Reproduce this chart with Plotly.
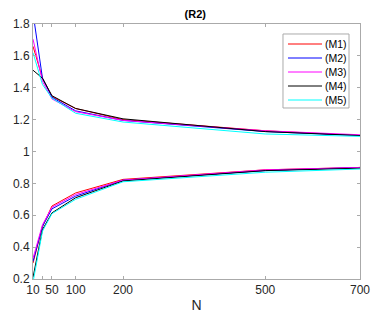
import plotly.graph_objects as go

N = [10, 30, 50, 100, 200, 500, 700]
names = ["(M1)", "(M2)", "(M3)", "(M4)", "(M5)"]
colors = ["#ff0000", "#0000ff", "#ff00ff", "#000000", "#00ffff"]

upper = {
    "(M1)": [1.66, 1.46, 1.345, 1.27, 1.20, 1.13, 1.10],
    "(M2)": [1.87, 1.46, 1.34, 1.255, 1.195, 1.125, 1.10],
    "(M3)": [1.705, 1.44, 1.33, 1.25, 1.195, 1.13, 1.105],
    "(M4)": [1.51, 1.46, 1.35, 1.27, 1.205, 1.125, 1.10],
    "(M5)": [1.62, 1.42, 1.335, 1.24, 1.185, 1.11, 1.095],
}
lower = {
    "(M1)": [0.30, 0.53, 0.658, 0.74, 0.825, 0.885, 0.90],
    "(M2)": [0.31, 0.53, 0.64, 0.72, 0.82, 0.88, 0.90],
    "(M3)": [0.33, 0.54, 0.65, 0.73, 0.82, 0.885, 0.90],
    "(M4)": [0.21, 0.51, 0.615, 0.71, 0.815, 0.88, 0.895],
    "(M5)": [0.18, 0.50, 0.61, 0.70, 0.81, 0.87, 0.89],
}

yticks = [0.2, 0.4, 0.6, 0.8, 1.0, 1.2, 1.4, 1.6, 1.8]
ytick_labels = ["0.2", "0.4", "0.6", "0.8", "1", "1.2", "1.4", "1.6", "1.8"]
xticks = [10, 30, 50, 100, 200, 500, 700]
xtick_labels = ["10", "", "50", "100", "200", "500", "700"]

fig = go.Figure()
for name, c in zip(names, colors):
    fig.add_trace(go.Scatter(x=N, y=upper[name], mode="lines", name=name,
                             line=dict(color=c, width=1), legendgroup=name,
                             showlegend=False))
for name, c in zip(names, colors):
    fig.add_trace(go.Scatter(x=N, y=lower[name], mode="lines", name=name,
                             line=dict(color=c, width=1), legendgroup=name,
                             showlegend=False))

axcol = "#aaaaaa"

# compact MATLAB-style legend box (layout decoration in paper coordinates)
fig.add_shape(type="rect", xref="paper", yref="paper",
              x0=0.7645, x1=0.9664, y0=0.6706, y1=0.9608,
              line=dict(color=axcol, width=1), fillcolor="white", layer="above")
for i, (name, c) in enumerate(zip(names, colors)):
    yy = (279 - (44 + 14 * i)) / 255
    fig.add_shape(type="line", xref="paper", yref="paper",
                  x0=0.7798, x1=0.8838, y0=yy, y1=yy,
                  line=dict(color=c, width=1), layer="above")
    fig.add_annotation(xref="paper", yref="paper", x=0.8869, y=yy,
                       xanchor="left", yanchor="middle", text=name,
                       showarrow=False, font=dict(size=10.5, color="#000000"))

fig.update_layout(
    width=374, height=319,
    margin=dict(l=33, r=14, t=24, b=40, autoexpand=False),
    paper_bgcolor="white", plot_bgcolor="white",
    font=dict(family="Liberation Sans, Arial, sans-serif", size=12, color="#262626"),
    title=dict(text="<b>(R2)</b>", x=0.522, xanchor="center", y=0.955, yanchor="middle",
               font=dict(size=11, color="#000000"), automargin=False),
    showlegend=False,
    xaxis=dict(range=[10, 700], tickvals=xticks, ticktext=xtick_labels,
               showgrid=False, zeroline=False, showline=True, linecolor=axcol,
               linewidth=1, mirror="ticks", ticks="inside", ticklen=3,
               tickcolor=axcol, automargin=False,
               title=dict(text="N", standoff=3)),
    yaxis=dict(range=[0.2, 1.8], tickvals=yticks, ticktext=ytick_labels,
               showgrid=False, zeroline=False, showline=True, linecolor=axcol,
               linewidth=1, mirror="ticks", ticks="inside", ticklen=3,
               tickcolor=axcol, automargin=False),
)

fig.write_html("out.html", config={"displayModeBar": False},
               post_script="document.body.style.margin='0';")
